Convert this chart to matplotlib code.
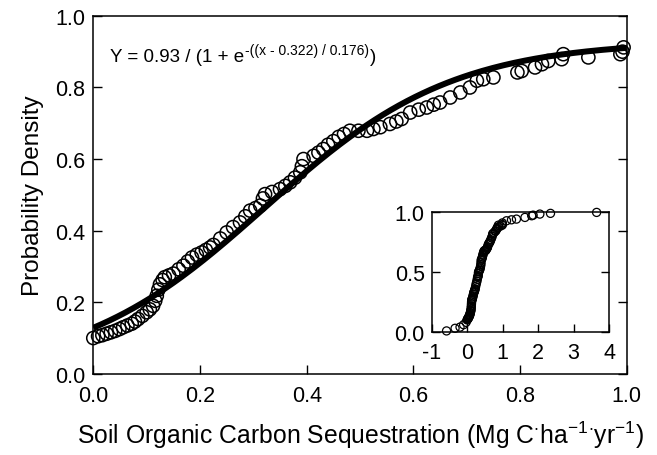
import numpy as np
import matplotlib
matplotlib.use("Agg")
import matplotlib.pyplot as plt
from matplotlib.transforms import offset_copy

plt.rcParams['font.family'] = ['Liberation Sans', 'DejaVu Sans']
plt.rcParams['mathtext.default'] = 'regular'
plt.rcParams['axes.unicode_minus'] = False

soc_x = [0.000, 0.009, 0.017, 0.025, 0.033, 0.041, 0.049, 0.056, 0.064, 0.072,
         0.078, 0.084, 0.092, 0.100, 0.106, 0.112, 0.116, 0.119, 0.122, 0.125,
         0.130, 0.134, 0.142, 0.150, 0.160, 0.169, 0.177, 0.185, 0.194, 0.203,
         0.211, 0.219, 0.225, 0.238, 0.250, 0.262, 0.275, 0.285, 0.294, 0.304,
         0.313, 0.318, 0.322, 0.335, 0.350, 0.360, 0.369, 0.378, 0.388, 0.391,
         0.394, 0.413, 0.422, 0.431, 0.440, 0.450, 0.460, 0.470, 0.481, 0.497,
         0.513, 0.525, 0.538, 0.556, 0.568, 0.578, 0.594, 0.610, 0.625, 0.638,
         0.650, 0.669, 0.688, 0.706, 0.719, 0.731, 0.750, 0.795, 0.803, 0.828,
         0.841, 0.853, 0.878, 0.881, 0.928, 0.988, 0.992, 0.994]
soc_y = [0.100, 0.105, 0.108, 0.112, 0.116, 0.120, 0.125, 0.130, 0.135, 0.140,
         0.146, 0.153, 0.162, 0.172, 0.180, 0.190, 0.204, 0.218, 0.235, 0.250,
         0.262, 0.270, 0.275, 0.280, 0.292, 0.302, 0.314, 0.325, 0.333, 0.339,
         0.346, 0.353, 0.360, 0.378, 0.395, 0.410, 0.423, 0.440, 0.456, 0.463,
         0.470, 0.490, 0.502, 0.508, 0.516, 0.525, 0.535, 0.548, 0.563, 0.580,
         0.600, 0.609, 0.618, 0.628, 0.640, 0.650, 0.662, 0.670, 0.679, 0.679,
         0.679, 0.684, 0.689, 0.698, 0.705, 0.712, 0.730, 0.738, 0.744, 0.752,
         0.758, 0.772, 0.786, 0.800, 0.819, 0.823, 0.828, 0.842, 0.846, 0.856,
         0.865, 0.874, 0.879, 0.893, 0.884, 0.893, 0.900, 0.912]

# tails only visible in the inset
low_x = [-0.58, -0.34, -0.20, -0.10, -0.03]
low_y = [0.008, 0.030, 0.040, 0.060, 0.080]
high_x = [1.11, 1.25, 1.39, 1.63, 1.82, 1.86, 2.05, 2.35, 3.65]
high_y = [0.930, 0.938, 0.944, 0.958, 0.972, 0.977, 0.986, 0.992, 1.000]

# fitted logistic from the equation on the chart
a, x0, b = 0.93, 0.322, 0.176
xfit = np.linspace(0, 1, 200)
yfit = a / (1 + np.exp(-(xfit - x0) / b))

fig = plt.figure(figsize=(6.57, 4.56), dpi=100)
ax = fig.add_axes([0.142, 0.178, 0.812, 0.785])

ax.scatter(soc_x, soc_y, s=90, facecolors='none', edgecolors='black', linewidths=1.1, zorder=2, clip_on=False)
ax.plot(xfit, yfit, color='black', lw=4.3, solid_capstyle='butt', zorder=3)

ax.set_xlim(0, 1)
ax.set_ylim(0, 1)
ax.set_xticks([0, 0.2, 0.4, 0.6, 0.8, 1.0])
ax.set_yticks([0, 0.2, 0.4, 0.6, 0.8, 1.0])
ax.set_xticklabels(['0.0', '0.2', '0.4', '0.6', '0.8', '1.0'])
ax.set_yticklabels(['0.0', '0.2', '0.4', '0.6', '0.8', '1.0'])
ax.tick_params(direction='in', length=6.5, width=1, labelsize=15.5, right=True)
ax.tick_params(axis='x', pad=8)
ax.tick_params(axis='y', pad=6)
for sp in ax.spines.values():
    sp.set_linewidth(1.1)

ax.set_xlabel(r'Soil Organic Carbon Sequestration (Mg C$^{\cdot}$ha$^{-1}$$^{\cdot}$yr$^{-1}$)', fontsize=17.8, labelpad=9)
ax.set_ylabel('Probability Density', fontsize=17.5, labelpad=8)

# equation, built in three pieces so the exponent keeps plain hyphens
fig.canvas.draw()
r = fig.canvas.get_renderer()
ex, ey = 0.032, 0.874
t1 = ax.text(ex, ey, 'Y = 0.93 / (1 + e', fontsize=13.5, transform=ax.transAxes, va='baseline')
w1 = t1.get_window_extent(r).width
t2 = ax.text(ex, ey, '-((x - 0.322) / 0.176)', fontsize=10,
             transform=offset_copy(ax.transAxes, fig=fig, x=w1 + 0.5, y=7, units='dots'), va='baseline')
w2 = t2.get_window_extent(r).width
ax.text(ex, ey, ')', fontsize=13.5,
        transform=offset_copy(ax.transAxes, fig=fig, x=w1 + w2 + 1.5, y=0, units='dots'), va='baseline')

# inset with the full distribution
ins = fig.add_axes([0.657, 0.270, 0.270, 0.262])
all_x = low_x + soc_x + high_x
all_y = low_y + soc_y + high_y
ins.scatter(all_x, all_y, s=34, facecolors='none', edgecolors='black', linewidths=0.9, clip_on=False, zorder=3)
ins.set_xlim(-1, 4)
ins.set_ylim(0, 1)
ins.set_xticks([-1, 0, 1, 2, 3, 4])
ins.set_yticks([0, 0.5, 1.0])
ins.set_yticklabels(['0.0', '0.5', '1.0'])
ins.tick_params(direction='in', length=5.5, width=1, labelsize=15.5, right=True)
ins.tick_params(axis='x', pad=7)
ins.tick_params(axis='y', pad=5)
for sp in ins.spines.values():
    sp.set_linewidth(1.1)

fig.savefig('out.png', dpi=100)
